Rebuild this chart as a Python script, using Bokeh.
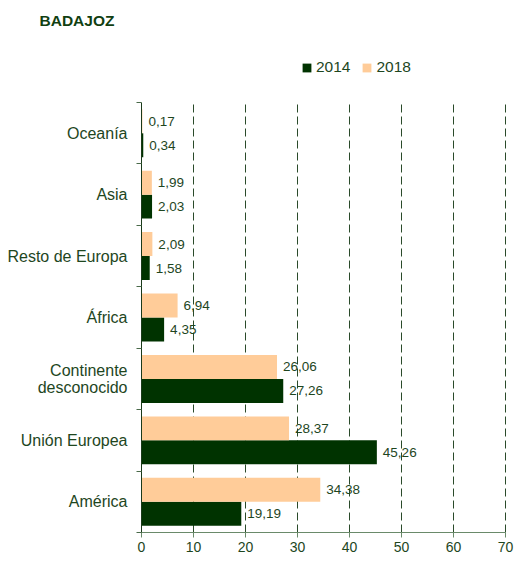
from bokeh.plotting import figure
from bokeh.models import (Range1d, FixedTicker, Label, Legend, LegendItem,
                          ColumnDataSource, LinearAxis)
from bokeh.core.properties import value
from bokeh.embed import file_html
from bokeh.resources import INLINE

# ---- data (bottom to top) ----
categories = ["América", "Unión Europea", "Continente\ndesconocido", "África",
              "Resto de Europa", "Asia", "Oceanía"]
values_2014 = [19.19, 45.26, 27.26, 4.35, 1.58, 2.03, 0.34]
values_2018 = [34.38, 28.37, 26.06, 6.94, 2.09, 1.99, 0.17]
labels_2014 = ["19,19", "45,26", "27,26", "4,35", "1,58", "2,03", "0,34"]
labels_2018 = ["34,38", "28,37", "26,06", "6,94", "2,09", "1,99", "0,17"]
x_ticks = [0, 10, 20, 30, 40, 50, 60, 70]
series_names = ["2014", "2018"]

# ---- style / layout (pixels inside the figure) ----
C2014 = "#003300"
C2018 = "#FFCC99"
TXT = "#1e461e"
FONT = "Liberation Sans"

FIG_W, FIG_H = 514, 561
PLOT_L, PLOT_R = 141, 505      # pixel of x=0 and x=70
PLOT_T, PLOT_B = 102, 532      # pixel of top of categories and of y=0
X_MAX = x_ticks[-1]
N = len(categories)
PX_X = (PLOT_R - PLOT_L) / X_MAX
PX_Y = (PLOT_B - PLOT_T) / N

centers = [i + 0.5 for i in range(N)]
BAR_H = 0.39
OFF = 0.195

p = figure(width=FIG_W, height=FIG_H, output_backend="svg", toolbar_location=None,
           x_range=Range1d(-PLOT_L / PX_X, X_MAX + (FIG_W - PLOT_R) / PX_X),
           y_range=Range1d(-(FIG_H - PLOT_B) / PX_Y, N + PLOT_T / PX_Y),
           x_axis_location=None, y_axis_location=None, min_border=0)
p.outline_line_color = None
p.background_fill_color = "white"
p.border_fill_color = "white"
p.xgrid.visible = False
p.ygrid.visible = False

# dashed vertical grid lines (from tick values, spanning the category area)
gx = x_ticks[1:]
p.segment(x0=gx, y0=[0] * len(gx), x1=gx, y1=[N] * len(gx),
          line_color="#2a4a2a", line_dash="8 4", line_width=1)

src14 = ColumnDataSource(dict(y=[c - OFF for c in centers], v=values_2014, t=labels_2014))
src18 = ColumnDataSource(dict(y=[c + OFF for c in centers], v=values_2018, t=labels_2018))

r14 = p.hbar(y="y", left=0, right="v", height=BAR_H, source=src14,
             fill_color=C2014, line_color=None)
r18 = p.hbar(y="y", left=0, right="v", height=BAR_H, source=src18,
             fill_color=C2018, line_color=None)

for src in (src14, src18):
    p.text(x="v", y="y", text="t", source=src, x_offset=6,
           text_baseline="middle", text_align="left",
           text_font=value(FONT), text_font_size="13.5px", text_color=TXT)

# x axis, fixed at y = 0
xaxis = LinearAxis(fixed_location=0, bounds=(0, X_MAX),
                   ticker=FixedTicker(ticks=x_ticks))
xaxis.axis_line_color = "#6a8a6a"
xaxis.major_tick_line_color = "#6a8a6a"
xaxis.major_tick_out = 5
xaxis.major_tick_in = 0
xaxis.minor_tick_line_color = None
xaxis.major_label_standoff = 4
xaxis.major_label_text_font = FONT
xaxis.major_label_text_font_size = "14px"
xaxis.major_label_text_color = TXT
p.add_layout(xaxis, "below")

# y axis, fixed at x = 0
yaxis = LinearAxis(fixed_location=0, bounds=(0, N),
                   ticker=FixedTicker(ticks=centers, minor_ticks=list(range(N + 1))))
yaxis.major_label_overrides = {c: lab for c, lab in zip(centers, categories)}
yaxis.axis_line_color = "#1a3a1a"
yaxis.major_tick_line_color = None
yaxis.major_tick_out = 0
yaxis.major_tick_in = 0
yaxis.minor_tick_line_color = "#4a6a4a"
yaxis.minor_tick_out = 5
yaxis.minor_tick_in = 0
yaxis.major_label_standoff = 9
yaxis.major_label_text_font = FONT
yaxis.major_label_text_font_size = "16px"
yaxis.major_label_text_line_height = 1.0
yaxis.major_label_text_color = TXT
p.add_layout(yaxis, "left")

# title
title = Label(x=(39 - PLOT_L) / PX_X, y=N + (PLOT_T - 20) / PX_Y, text="BADAJOZ",
              text_font=FONT, text_font_size="15.5px", text_font_style="bold",
              text_color="#113f11", text_baseline="middle", text_align="left")
p.add_layout(title)

legend = Legend(items=[LegendItem(label=series_names[0], renderers=[r14]),
                       LegendItem(label=series_names[1], renderers=[r18])],
                orientation="horizontal", location=(301, FIG_H - 77),
                glyph_width=11, glyph_height=11, label_standoff=4, spacing=11,
                padding=0, margin=0, border_line_color=None,
                background_fill_alpha=0, label_text_font=FONT,
                label_text_font_size="15.5px", label_text_color=TXT,
                label_height=20)
p.add_layout(legend)

open("out.html", "w").write(file_html(p, INLINE))
